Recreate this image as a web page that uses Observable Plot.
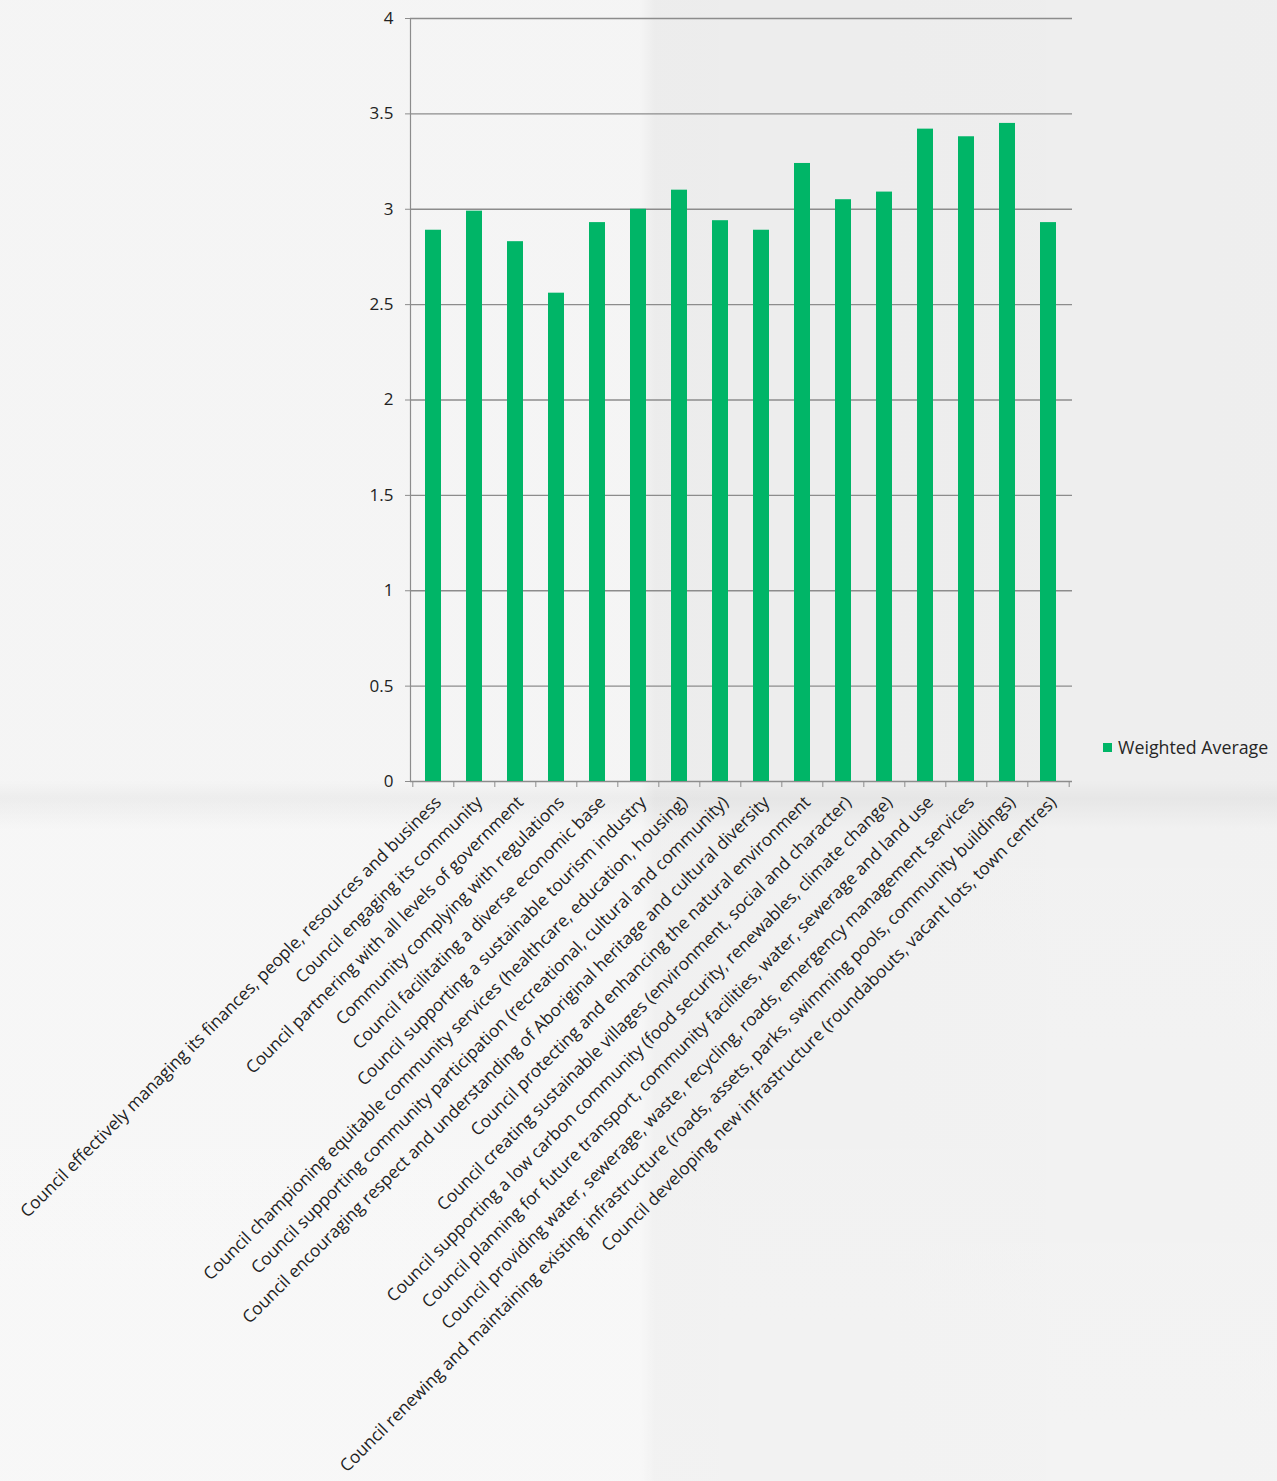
<!DOCTYPE html>
<html><head><meta charset="utf-8">
<script src="https://cdn.jsdelivr.net/npm/d3@7"></script>
<script src="https://cdn.jsdelivr.net/npm/@observablehq/plot@0.6"></script>
<style>
html,body{margin:0;padding:0}
body{width:1277px;height:1481px;overflow:hidden;position:relative;background:#f2f2f2;font-family:"Open Sans",sans-serif}
.paper{position:absolute;left:0;top:0;width:1277px;height:1481px;
 background:
  linear-gradient(180deg, rgba(0,0,0,0) 0px, rgba(0,0,0,0) 780px, rgba(0,0,0,0.03) 798px, rgba(255,255,255,0.2) 830px, rgba(255,255,255,0.3) 1481px),
  linear-gradient(90deg, rgba(255,255,255,0.2) 0px, rgba(255,255,255,0.2) 640px, rgba(0,0,0,0.025) 655px, rgba(0,0,0,0.015) 1277px);}
#chart{position:absolute;left:0;top:0}
#legend{position:absolute;left:1103px;top:735px;font-size:17.8px;color:#262626;white-space:nowrap;font-family:"Open Sans",sans-serif}
#legend .sw{display:inline-block;width:9px;height:9px;margin-right:6px;vertical-align:2px}
</style></head><body>
<div class="paper"></div>
<div id="chart"></div>
<div id="legend"><span class="sw"></span><span class="lab"></span></div>
<script>
const categories = [
  "Council effectively managing its finances, people, resources and business",
  "Council engaging its community",
  "Council partnering with all levels of government",
  "Community complying with regulations",
  "Council facilitating a diverse economic base",
  "Council supporting a sustainable tourism industry",
  "Council championing equitable community services (healthcare, education, housing)",
  "Council supporting community participation (recreational, cultural and community)",
  "Council encouraging respect and understanding of Aboriginal heritage and cultural diversity",
  "Council protecting and enhancing the natural environment",
  "Council creating sustainable villages (environment, social and character)",
  "Council supporting a low carbon community (food security, renewables, climate change)",
  "Council planning for future transport, community facilities, water, sewerage and land use",
  "Council providing water, sewerage, waste, recycling, roads, emergency management services",
  "Council renewing and maintaining existing infrastructure (roads, assets, parks, swimming pools, community buildings)",
  "Council developing new infrastructure (roundabouts, vacant lots, town centres)"
];
const values = [2.89, 2.99, 2.83, 2.56, 2.93, 3.00, 3.10, 2.94, 2.89, 3.24, 3.05, 3.09, 3.42, 3.38, 3.45, 2.93];
const yTicks = [0, 0.5, 1, 1.5, 2, 2.5, 3, 3.5, 4];
const seriesName = "Weighted Average";
const barColor = "#00b567";
const gridColor = "#8c8c8c";

const data = categories.map((c, i) => ({category: c, value: values[i]}));

const W = 1277, H = 1481, mT = 18, mL = 410, mR = 205, mB = 700;
const step = (W - mL - mR) / categories.length;

const chart = Plot.plot({
  width: W, height: H,
  marginTop: mT, marginLeft: mL, marginRight: mR, marginBottom: mB,
  style: {background: "transparent", fontFamily: "'Open Sans', sans-serif", color: "#222", overflow: "visible"},
  x: {domain: categories, paddingInner: 0.6, paddingOuter: 0.3, axis: null},
  y: {domain: [0, 4], axis: null},
  marks: [
    Plot.gridY(yTicks, {stroke: gridColor, strokeOpacity: 1, strokeWidth: 1.4}),
    Plot.barY(data, {x: "category", y: "value", fill: barColor}),
    Plot.frame({anchor: "left", stroke: gridColor, strokeWidth: 1.2}),
    Plot.axisY(yTicks, {tickSize: 5, tickPadding: 12, stroke: gridColor, fontSize: 17, label: null, tickFormat: d => String(d)}),
    Plot.axisX({tickSize: 6, tickFormat: () => "", stroke: gridColor, label: null, dx: -step / 2}),
    Plot.axisX([categories[categories.length - 1]], {tickSize: 6, tickFormat: () => "", stroke: gridColor, label: null, dx: step / 2}),
    Plot.axisX({tickSize: 0, tickPadding: 18, tickRotate: -45, fontSize: 17.3, label: null, dx: 5, tickFormat: d => d})
  ]
});
document.getElementById("chart").appendChild(chart);
document.querySelector("#legend .sw").style.background = barColor;
document.querySelector("#legend .lab").textContent = seriesName;
</script>
</body></html>
